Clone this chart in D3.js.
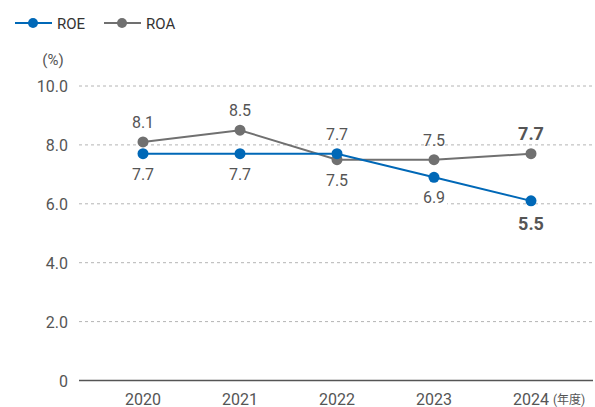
<!DOCTYPE html>
<html>
<head>
<meta charset="utf-8">
<script src="https://cdn.jsdelivr.net/npm/d3@7"></script>
<style>
  body { margin: 0; background: #fff; }
  text { font-family: Roboto, "Noto Sans CJK JP", sans-serif; }
</style>
</head>
<body>
<div id="chart"></div>
<script>
// data
const years = ["2020", "2021", "2022", "2023", "2024"];
const roe = [7.7, 7.7, 7.7, 6.9, 6.1];
const roa = [8.1, 8.5, 7.5, 7.5, 7.7];
const roeLabels = ["7.7", "7.7", "7.7", "6.9", "5.5"];
const roaLabels = ["8.1", "8.5", "7.5", "7.5", "7.7"];
const yTicks = [0, 2, 4, 6, 8, 10];

// label placement: +1 above, -1 below
const roePos = [-1, -1, 1, -1, -1];
const roaPos = [1, 1, -1, 1, 1];

const w = 595, h = 407;
const roeColor = "#0068b7", roaColor = "#707070";

const svg = d3.select("#chart").append("svg")
  .attr("width", w).attr("height", h);

const x = d3.scalePoint().domain(years).range([143, 531]);
const y = d3.scaleLinear().domain([0, 10]).range([380.5, 86]);

// grid lines
svg.selectAll(".grid")
  .data(yTicks.filter(d => d > 0))
  .enter().append("line")
  .attr("x1", 79).attr("x2", 595)
  .attr("y1", d => y(d)).attr("y2", d => y(d))
  .attr("stroke", "#b4b4b4")
  .attr("stroke-dasharray", "3,3");

// y tick labels
svg.selectAll(".ytick")
  .data(yTicks)
  .enter().append("text")
  .attr("x", 68).attr("y", d => y(d) + 6)
  .attr("text-anchor", "end")
  .attr("font-size", 16)
  .attr("fill", "#555")
  .text(d => d === 0 ? "0" : d3.format(".1f")(d));

svg.append("text")
  .attr("x", 53).attr("y", 65)
  .attr("text-anchor", "middle")
  .attr("font-size", 15)
  .attr("fill", "#555")
  .text("(%)");

// x axis
svg.append("line")
  .attr("x1", 79).attr("x2", 593)
  .attr("y1", y(0)).attr("y2", y(0))
  .attr("stroke", "#555").attr("stroke-width", 1.5);

svg.selectAll(".xtick")
  .data(years)
  .enter().append("text")
  .attr("x", d => x(d)).attr("y", 405)
  .attr("text-anchor", "middle")
  .attr("font-size", 16)
  .attr("fill", "#555")
  .text(d => d);

svg.append("text")
  .attr("x", 553).attr("y", 404)
  .attr("font-size", 12)
  .attr("fill", "#555")
  .text("(年度)");

// series
const line = d3.line().x((d, i) => x(years[i])).y(d => y(d));

function drawSeries(vals, color) {
  svg.append("path")
    .datum(vals)
    .attr("d", line)
    .attr("fill", "none")
    .attr("stroke", color)
    .attr("stroke-width", 2);
  svg.selectAll(null)
    .data(vals)
    .enter().append("circle")
    .attr("cx", (d, i) => x(years[i]))
    .attr("cy", d => y(d))
    .attr("r", 5.5)
    .attr("fill", color);
}

drawSeries(roa, roaColor);
drawSeries(roe, roeColor);

// value labels
function drawLabels(vals, labels, pos, bgFor) {
  vals.forEach((v, i) => {
    const last = i === vals.length - 1;
    const ty = pos[i] > 0 ? y(v) - 14 : y(v) + (last ? 29 : 26);
    const t = svg.append("text")
      .attr("x", x(years[i]))
      .attr("y", ty)
      .attr("text-anchor", "middle")
      .attr("font-size", last ? 18 : 16)
      .attr("font-weight", last ? "bold" : "normal")
      .attr("fill", "#555")
      .text(labels[i]);
    if (bgFor === i) {
      const b = t.node().getBBox();
      svg.insert("rect", () => t.node())
        .attr("x", b.x - 2).attr("y", b.y)
        .attr("width", b.width + 4).attr("height", b.height)
        .attr("fill", "#fff");
    }
  });
}

drawLabels(roa, roaLabels, roaPos, -1);
drawLabels(roe, roeLabels, roePos, 3);

// legend
const legend = [
  { name: "ROE", color: roeColor, x: 15 },
  { name: "ROA", color: roaColor, x: 104 }
];
legend.forEach(l => {
  svg.append("line")
    .attr("x1", l.x).attr("x2", l.x + 37)
    .attr("y1", 23).attr("y2", 23)
    .attr("stroke", l.color).attr("stroke-width", 2);
  svg.append("circle")
    .attr("cx", l.x + 18).attr("cy", 23).attr("r", 5)
    .attr("fill", l.color);
  svg.append("text")
    .attr("x", l.x + 42).attr("y", 28.5)
    .attr("font-size", 15)
    .attr("fill", "#333")
    .text(l.name);
});
</script>
</body>
</html>
